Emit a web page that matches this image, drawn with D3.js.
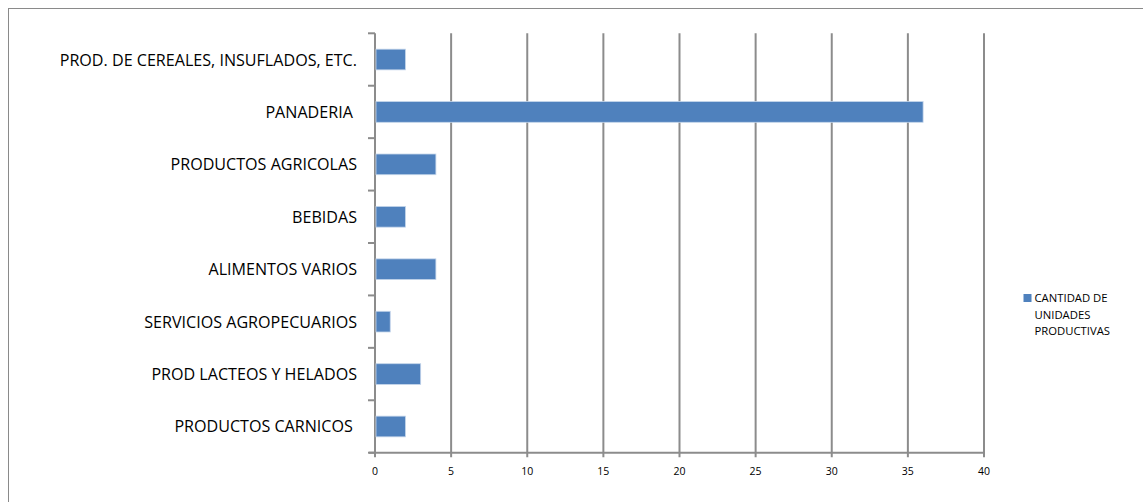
<!DOCTYPE html>
<html>
<head>
<meta charset="utf-8">
<script src="https://cdn.jsdelivr.net/npm/d3@7"></script>
<style>
  html, body { margin: 0; padding: 0; background: #fff; }
  svg { display: block; }
  text { font-family: "Open Sans", Lato, sans-serif; fill: #000; }
</style>
</head>
<body>
<svg id="chart" width="1143" height="502"></svg>
<script>
// Categories (top to bottom) and counts of productive units
const categories = [
  "PROD. DE CEREALES, INSUFLADOS, ETC.",
  "PANADERIA ",
  "PRODUCTOS AGRICOLAS",
  "BEBIDAS",
  "ALIMENTOS VARIOS",
  "SERVICIOS AGROPECUARIOS",
  "PROD LACTEOS Y HELADOS",
  "PRODUCTOS CARNICOS "
];
const values = [2, 36, 4, 2, 4, 1, 3, 2];
const xTicks = [0, 5, 10, 15, 20, 25, 30, 35, 40];
const legendLines = ["CANTIDAD DE", "UNIDADES", "PRODUCTIVAS"];

const svg = d3.select("#chart");

// outer chart frame
svg.append("rect")
  .attr("x", 8.5).attr("y", 8.5)
  .attr("width", 1400).attr("height", 800)
  .attr("fill", "none").attr("stroke", "#8a8a8a").attr("stroke-width", 1);

const plot = { left: 375, right: 984, top: 33.3, bottom: 452.7 };

const x = d3.scaleLinear().domain([0, 40]).range([plot.left, plot.right]);
const yBand = d3.scaleBand().domain(categories).range([plot.top, plot.bottom]);

const gridColor = "#8c8c8c";

// vertical gridlines
svg.append("g")
  .selectAll("line")
  .data(xTicks.filter(d => d > 0))
  .join("line")
  .attr("x1", d => x(d)).attr("x2", d => x(d))
  .attr("y1", plot.top).attr("y2", plot.bottom + 4.5)
  .attr("stroke", gridColor).attr("stroke-width", 2);

// x axis line
svg.append("line")
  .attr("x1", plot.left - 6).attr("x2", plot.right)
  .attr("y1", plot.bottom).attr("y2", plot.bottom)
  .attr("stroke", gridColor).attr("stroke-width", 2);

// y axis line
svg.append("line")
  .attr("x1", plot.left).attr("x2", plot.left)
  .attr("y1", plot.top).attr("y2", plot.bottom + 4.5)
  .attr("stroke", gridColor).attr("stroke-width", 2);

// y axis ticks at category boundaries
const boundaries = categories.map(c => yBand(c)).concat([plot.bottom]);
svg.append("g")
  .selectAll("line")
  .data(boundaries)
  .join("line")
  .attr("x1", plot.left - 7).attr("x2", plot.left)
  .attr("y1", d => d).attr("y2", d => d)
  .attr("stroke", gridColor).attr("stroke-width", 2);

// x tick labels
svg.append("g")
  .selectAll("text")
  .data(xTicks)
  .join("text")
  .attr("x", d => x(d))
  .attr("y", 475)
  .attr("text-anchor", "middle")
  .style("font-size", "10.5px")
  .text(d => d);

// bars
const barH = 20.7;
svg.append("g")
  .selectAll("rect")
  .data(values)
  .join("rect")
  .attr("x", x(0) + 1)
  .attr("y", (d, i) => yBand(categories[i]) + yBand.bandwidth() / 2 - barH / 2)
  .attr("width", d => x(d) - x(0) - 1)
  .attr("height", barH)
  .attr("fill", "#4f81bd")
  .attr("stroke", "#c4d5ea").attr("stroke-width", 0.8);

// category labels
svg.append("g")
  .selectAll("text")
  .data(categories)
  .join("text")
  .attr("x", 357)
  .attr("y", d => yBand(d) + yBand.bandwidth() / 2 + 6)
  .attr("text-anchor", "end")
  .style("font-size", "16.1px")
  .style("white-space", "pre")
  .attr("xml:space", "preserve")
  .text(d => d);

// legend
const legend = svg.append("g");
legend.append("rect")
  .attr("x", 1023.5).attr("y", 294)
  .attr("width", 8).attr("height", 8)
  .attr("fill", "#4f81bd");
legend.selectAll("text")
  .data(legendLines)
  .join("text")
  .attr("x", 1034.5)
  .attr("y", (d, i) => 302 + i * 16.7)
  .style("font-size", "11.3px")
  .text(d => d);
</script>
</body>
</html>
